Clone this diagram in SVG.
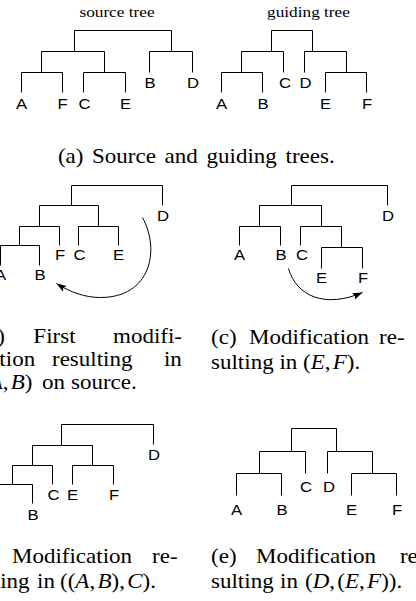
<svg xmlns="http://www.w3.org/2000/svg" width="416" height="601" viewBox="0 0 416 601">
<style>
.t{fill:none;stroke:#000;stroke-width:1}
.lb{font-family:"Liberation Sans",Arial,sans-serif;font-size:14.5px;text-anchor:middle;fill:#000}
.tt{font-family:"Liberation Serif","Times New Roman",serif;font-size:15px;text-anchor:middle;fill:#000}
.cp{font-family:"Liberation Serif","Times New Roman",serif;font-size:20px;fill:#000}
.i{font-style:italic}
.arc{fill:none;stroke:#000;stroke-width:1}
</style>
<defs>
<marker id="ah" markerWidth="11" markerHeight="8" refX="10" refY="3.5" orient="auto" markerUnits="userSpaceOnUse">
<path d="M0,0 L10,3.5 L0,7 L2,3.5 z" fill="#000"/>
</marker>
</defs>
<rect width="416" height="601" fill="#fff"/>

<!-- titles -->
<text class="tt" transform="translate(117,17) scale(1.15,1)">source tree</text>
<text class="tt" transform="translate(308.5,17) scale(1.15,1)">guiding tree</text>

<g id="connectors" transform="translate(0.5,0.5)">
<!-- (a) source tree -->
<path class="t" d="M74,51 V30 H171 V51"/>
<path class="t" d="M41,72 V51 H104 V72"/>
<path class="t" d="M149,72 V51 H192 V72"/>
<path class="t" d="M21,92 V72 H62 V92"/>
<path class="t" d="M83,92 V72 H125 V92"/>
<!-- (a) guiding tree -->
<path class="t" d="M271,51 V30 H312 V51"/>
<path class="t" d="M241,72 V51 H283 V72"/>
<path class="t" d="M304,72 V51 H346 V72"/>
<path class="t" d="M221,92 V72 H262 V92"/>
<path class="t" d="M325,92 V72 H366 V92"/>
<!-- (b) -->
<path class="t" d="M71,205 V185 H162 V205"/>
<path class="t" d="M39,226 V205 H98 V226"/>
<path class="t" d="M19,245 V226 H59 V245"/>
<path class="t" d="M0,265 V245 H39 V265"/>
<path class="t" d="M78,245 V226 H118 V245"/>
<path class="arc" d="M142,217 C160,250 150,297 100,297 C85,297 70,292 56,283" marker-end="url(#ah)"/>
<!-- (c) -->
<path class="t" d="M291,205 V185 H387 V205"/>
<path class="t" d="M259,226 V205 H321 V226"/>
<path class="t" d="M239,245 V226 H280 V245"/>
<path class="t" d="M300,245 V226 H341 V247"/>
<path class="t" d="M321,268 V247 H362 V268"/>
<path class="arc" d="M288,268 C296,296 325,308 362,292" marker-end="url(#ah)"/>
<!-- (d) -->
<path class="t" d="M61,445 V424 H153 V444"/>
<path class="t" d="M32,465 V445 H92 V465"/>
<path class="t" d="M12,484 V465 H52 V484"/>
<path class="t" d="M-8,503 V484 H32 V503"/>
<path class="t" d="M72,484 V465 H113 V484"/>
<!-- (e) -->
<path class="t" d="M291,451 V428 H336 V451"/>
<path class="t" d="M259,473 V451 H305 V473"/>
<path class="t" d="M327,473 V451 H372 V473"/>
<path class="t" d="M236,495 V473 H281 V495"/>
<path class="t" d="M351,495 V473 H396 V495"/>
</g>

<!-- (a) source leaves -->
<g id="a-src-A"><text class="lb" transform="translate(21.5,109) scale(1.15,1)">A</text></g>
<g id="a-src-F"><text class="lb" transform="translate(62.5,109) scale(1.15,1)">F</text></g>
<g id="a-src-C"><text class="lb" transform="translate(84.5,109) scale(1.15,1)">C</text></g>
<g id="a-src-E"><text class="lb" transform="translate(125.5,109) scale(1.15,1)">E</text></g>
<g id="a-src-B"><text class="lb" transform="translate(150,88) scale(1.15,1)">B</text></g>
<g id="a-src-D"><text class="lb" transform="translate(193,88) scale(1.15,1)">D</text></g>
<!-- (a) guiding leaves -->
<g id="a-gd-A"><text class="lb" transform="translate(221.5,109) scale(1.15,1)">A</text></g>
<g id="a-gd-B"><text class="lb" transform="translate(263,109) scale(1.15,1)">B</text></g>
<g id="a-gd-C"><text class="lb" transform="translate(285,88) scale(1.15,1)">C</text></g>
<g id="a-gd-D"><text class="lb" transform="translate(305.5,88) scale(1.15,1)">D</text></g>
<g id="a-gd-E"><text class="lb" transform="translate(325.5,109) scale(1.15,1)">E</text></g>
<g id="a-gd-F"><text class="lb" transform="translate(367,109) scale(1.15,1)">F</text></g>
<!-- (b) leaves -->
<g id="b-D"><text class="lb" transform="translate(163,221) scale(1.15,1)">D</text></g>
<g id="b-F"><text class="lb" transform="translate(60,260) scale(1.15,1)">F</text></g>
<g id="b-C"><text class="lb" transform="translate(79.5,260) scale(1.15,1)">C</text></g>
<g id="b-E"><text class="lb" transform="translate(118.5,260) scale(1.15,1)">E</text></g>
<g id="b-A"><text class="lb" transform="translate(0.5,280) scale(1.15,1)">A</text></g>
<g id="b-B"><text class="lb" transform="translate(40,280) scale(1.15,1)">B</text></g>
<!-- (c) leaves -->
<g id="c-D"><text class="lb" transform="translate(388,221) scale(1.15,1)">D</text></g>
<g id="c-A"><text class="lb" transform="translate(239.5,260) scale(1.15,1)">A</text></g>
<g id="c-B"><text class="lb" transform="translate(281,260) scale(1.15,1)">B</text></g>
<g id="c-C"><text class="lb" transform="translate(302,260) scale(1.15,1)">C</text></g>
<g id="c-E"><text class="lb" transform="translate(321.5,283) scale(1.15,1)">E</text></g>
<g id="c-F"><text class="lb" transform="translate(363,283) scale(1.15,1)">F</text></g>
<!-- (d) leaves -->
<g id="d-D"><text class="lb" transform="translate(154,460) scale(1.15,1)">D</text></g>
<g id="d-C"><text class="lb" transform="translate(53.5,500) scale(1.15,1)">C</text></g>
<g id="d-E"><text class="lb" transform="translate(72.5,500) scale(1.15,1)">E</text></g>
<g id="d-F"><text class="lb" transform="translate(114,500) scale(1.15,1)">F</text></g>
<g id="d-B"><text class="lb" transform="translate(33,520) scale(1.15,1)">B</text></g>
<!-- (e) leaves -->
<g id="e-A"><text class="lb" transform="translate(236.5,515) scale(1.15,1)">A</text></g>
<g id="e-B"><text class="lb" transform="translate(282,515) scale(1.15,1)">B</text></g>
<g id="e-C"><text class="lb" transform="translate(306,492) scale(1.15,1)">C</text></g>
<g id="e-D"><text class="lb" transform="translate(329,492) scale(1.15,1)">D</text></g>
<g id="e-E"><text class="lb" transform="translate(351.5,515) scale(1.15,1)">E</text></g>
<g id="e-F"><text class="lb" transform="translate(397,515) scale(1.15,1)">F</text></g>

<!-- captions -->
<g id="captions">
<text class="cp" transform="translate(0,163) scale(1.15,1)"><tspan x="50.4">(a)</tspan><tspan x="80" word-spacing="2.6">Source and guiding trees.</tspan></text>

<text class="cp" transform="translate(0,343) scale(1.15,1)"><tspan x="-19.1">(b)</tspan><tspan x="29">First</tspan><tspan x="98.3">modifi-</tspan></text>
<text class="cp" transform="translate(0,366) scale(1.15,1)"><tspan x="-18.3">cation</tspan><tspan x="45.2">resulting</tspan><tspan x="142.6">in</tspan></text>
<text class="cp" transform="translate(0,389) scale(1.15,1)"><tspan x="-16.5">(<tspan class="i">A</tspan>,<tspan class="i" dx="2">B</tspan>)</tspan><tspan x="36.5">on</tspan><tspan x="61.7">source.</tspan></text>

<text class="cp" transform="translate(0,344) scale(1.15,1)"><tspan x="183.5">(c)</tspan><tspan x="216.5">Modification</tspan><tspan x="329.6">re-</tspan></text>
<text class="cp" transform="translate(0,369) scale(1.15,1)"><tspan x="183.5">sulting</tspan><tspan x="243">in</tspan><tspan x="263.5">(<tspan class="i">E</tspan>,<tspan class="i" dx="2">F</tspan>).</tspan></text>

<text class="cp" transform="translate(0,563) scale(1.15,1)"><tspan x="10.4">Modification</tspan><tspan x="132.2">re-</tspan></text>
<text class="cp" transform="translate(0,588) scale(1.15,1)"><tspan x="-28.7">sulting</tspan><tspan x="32.2">in</tspan><tspan x="52.2">((<tspan class="i">A</tspan>,<tspan class="i" dx="2">B</tspan>),<tspan dx="2"><tspan class="i">C</tspan></tspan>).</tspan></text>

<text class="cp" transform="translate(0,563) scale(1.15,1)"><tspan x="183.5">(e)</tspan><tspan x="222.6">Modification</tspan><tspan x="347.8">re-</tspan></text>
<text class="cp" transform="translate(0,588) scale(1.15,1)"><tspan x="183.5">sulting</tspan><tspan x="243.5">in</tspan><tspan x="265.2">(<tspan class="i">D</tspan>,<tspan dx="2">(</tspan><tspan class="i">E</tspan>,<tspan class="i" dx="2">F</tspan>)).</tspan></text>
</g>
</svg>
